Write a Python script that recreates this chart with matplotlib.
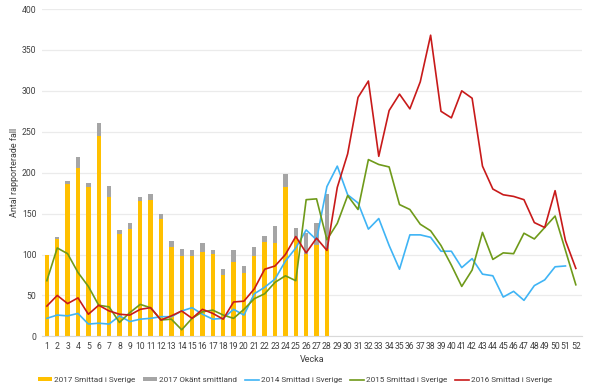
import numpy as np
import matplotlib
matplotlib.use("Agg")
import matplotlib.pyplot as plt

plt.rcParams['font.family'] = ['Roboto', 'DejaVu Sans']

weeks = np.arange(1, 53)
week_labels = [str(w) for w in weeks]

# 2017 veckor 1-28
smittad_2017 = [100, 119, 186, 206, 182, 245, 170, 125, 131, 165, 167, 144, 109, 98,
                98, 103, 101, 75, 91, 78, 98, 115, 114, 182, 120, 101, 112, 107]
okant_2017 = [0, 2, 4, 13, 5, 16, 14, 5, 8, 5, 7, 6, 7, 9,
              7, 11, 4, 7, 15, 8, 11, 8, 21, 16, 13, 25, 26, 67]

s2014 = [22, 26, 25, 28, 15, 16, 15, 25, 18, 21, 22, 24, 24, 31, 35, 27, 21, 22, 33, 26,
         52, 60, 70, 92, 108, 130, 118, 183, 208, 173, 163, 131, 144, 111, 82, 124, 124, 121,
         104, 104, 84, 95, 76, 74, 48, 55, 44, 62, 69, 85, 86, np.nan]
s2015 = [68, 108, 101, 78, 61, 38, 36, 17, 29, 39, 35, 20, 21, 8, 22, 30, 32, 26, 22, 33,
         46, 52, 66, 74, 68, 167, 168, 118, 138, 172, 155, 216, 210, 207, 161, 155, 137, 129,
         111, 87, 61, 81, 127, 94, 102, 101, 126, 119, 133, 147, 105, 63]
s2016 = [37, 50, 40, 47, 27, 38, 31, 27, 26, 33, 35, 20, 25, 31, 22, 33, 28, 21, 42, 43,
         58, 82, 86, 100, 122, 102, 120, 105, 182, 223, 292, 312, 220, 276, 296, 278, 311, 368,
         275, 267, 300, 291, 208, 180, 173, 171, 167, 139, 133, 178, 117, 83]

fig = plt.figure(figsize=(5.9, 3.92), dpi=100)
ax = fig.add_axes([0.071, 0.142, 0.915, 0.835])

w17 = weeks[:len(smittad_2017)]
ax.bar(w17, smittad_2017, width=0.42, color='#FFC000', label='2017 Smittad i Sverige', zorder=2)
ax.bar(w17, okant_2017, width=0.42, bottom=smittad_2017, color='#A5A5A5',
       label='2017 Okänt smittland', zorder=2)
ax.plot(weeks, s2014, color='#3FB4F5', lw=1.2, label='2014 Smittad i Sverige', zorder=3)
ax.plot(weeks, s2015, color='#6F9A1A', lw=1.2, label='2015 Smittad i Sverige', zorder=3)
ax.plot(weeks, s2016, color='#C81A1A', lw=1.2, label='2016 Smittad i Sverige', zorder=3)

ax.set_xlim(0.52, 52.57)
ax.set_ylim(0, 400)
ax.set_yticks(range(0, 401, 50))
ax.set_xticks(weeks)
ax.set_xticklabels(week_labels)
ax.tick_params(length=0, labelsize=6.2, colors='#404040', pad=4)
ax.grid(axis='y', color='#EBEBEB', lw=0.9, zorder=0)
for s in ['top', 'right', 'left']:
    ax.spines[s].set_visible(False)
ax.spines['bottom'].set_color('#D9D9D9')
ax.set_xlabel('Vecka', fontsize=6.5, color='#404040', labelpad=3)
ax.set_ylabel('Antal rapporterade fall', fontsize=6.5, color='#404040', labelpad=2)

handles, labels = ax.get_legend_handles_labels()
order = [3, 4, 0, 1, 2]
fig.legend([handles[i] for i in order], [labels[i] for i in order],
           loc='center', bbox_to_anchor=(0.5, 0.03), ncol=5, frameon=False,
           fontsize=5.9, handlelength=1.7, handleheight=0.3, columnspacing=0.9,
           handletextpad=0.3, labelcolor='#404040')

fig.savefig('out.png', dpi=100)
